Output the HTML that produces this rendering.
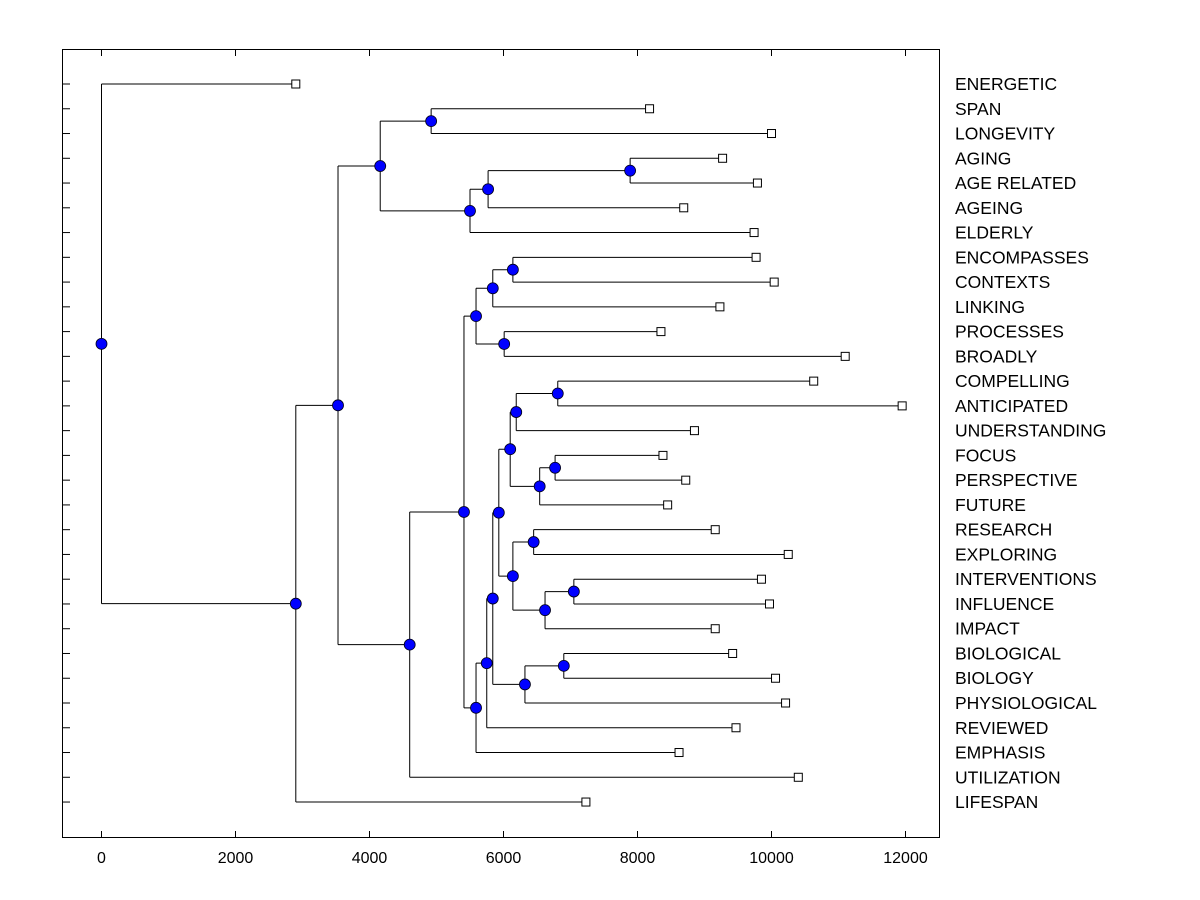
<!DOCTYPE html>
<html><head><meta charset="utf-8"><style>
body{margin:0;background:#fff}
svg{display:block}
text{font-family:"Liberation Sans",Arial,sans-serif;fill:#000}
</style></head><body>
<svg id="chart" width="1200" height="900" xmlns="http://www.w3.org/2000/svg">
<rect x="62.5" y="49.5" width="877" height="788" fill="none" stroke="#000" stroke-width="1"/>
<g id="g"></g>
</svg>
<script>
const leafLabels=["ENERGETIC","SPAN","LONGEVITY","AGING","AGE RELATED","AGEING","ELDERLY","ENCOMPASSES","CONTEXTS","LINKING","PROCESSES","BROADLY","COMPELLING","ANTICIPATED","UNDERSTANDING","FOCUS","PERSPECTIVE","FUTURE","RESEARCH","EXPLORING","INTERVENTIONS","INFLUENCE","IMPACT","BIOLOGICAL","BIOLOGY","PHYSIOLOGICAL","REVIEWED","EMPHASIS","UTILIZATION","LIFESPAN"];
const leafHeights=[2900,8180,10000,9270,9790,8690,9740,9770,10040,9230,8350,11100,10630,11950,8850,8380,8720,8450,9160,10250,9850,9970,9160,9420,10060,10210,9470,8620,10400,7230];
const mergeLeft =["L1","L3","N1","N2","N0","L7","N5","L10","N6","L12","N9","L15","N11","N10","L18","L20","N15","N14","N13","L23","N19","N18","N21","N22","N8","N24","N4","N26","L0"];
const mergeRight=["L2","L4","L5","L6","N3","L8","L9","L11","N7","L13","L14","L16","L17","N12","L19","L21","L22","N16","N17","L24","L25","N20","L26","L27","N23","L28","N25","L29","N27"];
const mergeHeights=[4920,7890,5770,5500,4160,6140,5840,6010,5590,6810,6190,6770,6540,6100,6450,7050,6620,6140,5930,6900,6320,5840,5750,5590,5410,4600,3530,2900,0];
const xTicks=[0,2000,4000,6000,8000,10000,12000];

const X=v=>101.5+v*0.067;
const Y=i=>84+i*24.76;
const g=document.getElementById('g');const NS="http://www.w3.org/2000/svg";
function el(t,a){const e=document.createElementNS(NS,t);for(const k in a)e.setAttribute(k,a[k]);g.appendChild(e);return e;}
const pos={};
leafLabels.forEach((l,i)=>{pos["L"+i]={x:X(leafHeights[i]),y:Y(i)};});
mergeHeights.forEach((h,i)=>{const a=pos[mergeLeft[i]],b=pos[mergeRight[i]];pos["N"+i]={x:X(h),y:(a.y+b.y)/2};});
mergeHeights.forEach((h,i)=>{const p=pos["N"+i],a=pos[mergeLeft[i]],b=pos[mergeRight[i]];
 const e=el('path',{d:`M${p.x},${a.y}H${a.x}M${p.x},${b.y}H${b.x}M${p.x},${a.y}V${b.y}`,stroke:'#000','stroke-width':1,fill:'none'});
 
 
});
leafLabels.forEach((l,i)=>{const e=el('line',{x1:62,x2:70,y1:Y(i),y2:Y(i),stroke:'#000'});
 
 
 const s=el('rect',{x:pos["L"+i].x-4,y:Y(i)-4,width:8,height:8,fill:'#fff',stroke:'#000'});
 
 
 const t=el('text',{x:955,y:Y(i)+6,'font-size':17.5});t.textContent=l;
 
 
});
mergeHeights.forEach((h,i)=>{const p=pos["N"+i];const c=el('circle',{cx:p.x,cy:p.y,r:5.5,fill:'#0000ff',stroke:'#000018','stroke-width':0.8});
 
 
});
xTicks.forEach(v=>{const x=X(v);
 const a=el('line',{x1:x,x2:x,y1:50,y2:56,stroke:'#000'});
 
 
 const b=el('line',{x1:x,x2:x,y1:831,y2:837,stroke:'#000'});
 
 
 const t=el('text',{x:x,y:863,'font-size':16,'text-anchor':'middle'});t.textContent=v;
 
 
});
</script>
</body></html>
